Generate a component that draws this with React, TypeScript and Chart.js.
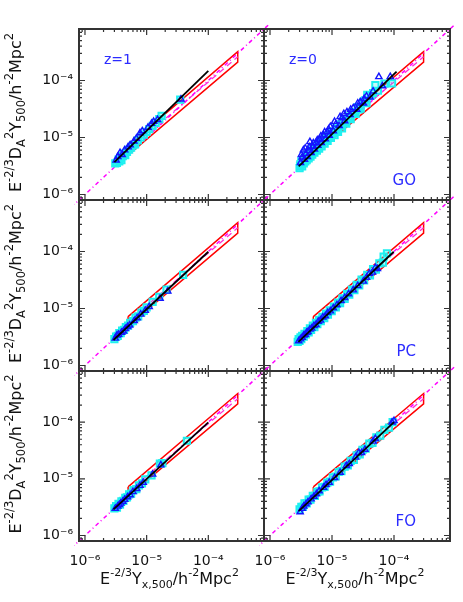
import React, { useEffect, useRef } from 'react';
import { Chart, registerables } from 'chart.js';

Chart.register(...registerables);
Chart.defaults.font.family = 'DejaVu Sans';

// ---------- axis / tick data ----------
const AXIS_MIN = 8e-7;
const AXIS_MAX = 8e-4;
const DECADES = [1e-6, 1e-5, 1e-4];
const DECADE_LABELS = ['10⁻⁶', '10⁻⁵', '10⁻⁴'];
const TICK_VALUES = [
  8e-7, 9e-7,
  1e-6, 2e-6, 3e-6, 4e-6, 5e-6, 6e-6, 7e-6, 8e-6, 9e-6,
  1e-5, 2e-5, 3e-5, 4e-5, 5e-5, 6e-5, 7e-5, 8e-5, 9e-5,
  1e-4, 2e-4, 3e-4, 4e-4, 5e-4, 6e-4, 7e-4, 8e-4,
];

// ---------- reference relations (same in every panel) ----------
const BAND_X = [5e-6, 3e-4, 3e-4, 5e-6, 5e-6];
const BAND_Y = [7.2e-6, 3.2e-4, 2.1e-4, 4.9e-6, 7.2e-6];
const BAND_MID_X = [5e-6, 3e-4];
const BAND_MID_Y = [5.9e-6, 2.6e-4];
const IDENTITY_X = [6e-7, 1e-3];
const IDENTITY_Y = [6e-7, 1e-3];

// ---------- GO, z=1 ----------
const GO_Z1_SQ_X = [3.1e-6, 3.3e-6, 3.5e-6, 3.6e-6, 3.8e-6, 3.9e-6, 4.1e-6, 4.3e-6, 4.5e-6, 4.8e-6, 5.2e-6, 5.6e-6, 6.0e-6, 6.5e-6, 7.2e-6, 8.0e-6, 9.0e-6, 1.0e-5, 1.1e-5, 1.25e-5, 1.4e-5, 1.6e-5, 1.75e-5, 3.5e-5];
const GO_Z1_SQ_Y = [3.5e-6, 3.6e-6, 4.1e-6, 3.8e-6, 4.4e-6, 4.0e-6, 4.7e-6, 5.2e-6, 4.9e-6, 5.6e-6, 6.1e-6, 6.6e-6, 7.3e-6, 7.6e-6, 8.9e-6, 1.0e-5, 1.12e-5, 1.25e-5, 1.4e-5, 1.6e-5, 1.8e-5, 2.1e-5, 2.4e-5, 4.6e-5];
const GO_Z1_TRI_X = [3.2e-6, 3.4e-6, 3.7e-6, 4.0e-6, 4.4e-6, 5.0e-6, 5.4e-6, 6.2e-6, 6.8e-6, 7.8e-6, 8.5e-6, 1.05e-5, 1.2e-5, 1.3e-5, 1.5e-5, 3.6e-5];
const GO_Z1_TRI_Y = [4.0e-6, 4.6e-6, 5.4e-6, 5.0e-6, 6.0e-6, 6.8e-6, 7.4e-6, 8.6e-6, 9.6e-6, 1.2e-5, 1.3e-5, 1.5e-5, 1.75e-5, 1.9e-5, 2.05e-5, 4.7e-5];
const GO_Z1_FIT_X = [3.0e-6, 1.0e-4];
const GO_Z1_FIT_Y = [3.7e-6, 1.47e-4];

// ---------- GO, z=0 ----------
const GO_Z0_SQ_X = [3.0e-6, 3.1e-6, 3.2e-6, 3.3e-6, 3.4e-6, 3.5e-6, 3.6e-6, 3.7e-6, 3.8e-6, 3.9e-6, 4.0e-6, 4.2e-6, 4.3e-6, 4.5e-6, 4.6e-6, 4.8e-6, 5.0e-6, 5.2e-6, 5.4e-6, 5.7e-6, 5.9e-6, 6.2e-6, 6.5e-6, 6.8e-6, 7.2e-6, 7.6e-6, 8.0e-6, 8.5e-6, 9.0e-6, 9.6e-6, 1.02e-5, 1.1e-5, 1.17e-5, 1.25e-5, 1.35e-5, 1.45e-5, 1.55e-5, 1.7e-5, 1.85e-5, 2.0e-5, 2.2e-5, 2.4e-5, 2.6e-5, 2.9e-5, 3.2e-5, 3.6e-5, 3.7e-5, 4.2e-5, 5.0e-5, 5.5e-5, 7.0e-5, 9.3e-5,
  3.05e-6, 3.25e-6, 3.45e-6, 3.65e-6, 3.85e-6, 4.1e-6, 4.4e-6, 4.7e-6, 5.1e-6, 5.5e-6, 6.0e-6, 6.6e-6, 7.4e-6, 8.2e-6, 9.3e-6, 1.06e-5, 1.2e-5, 1.4e-5, 1.6e-5, 1.9e-5, 2.3e-5, 2.7e-5, 3.4e-5, 4.6e-5];
const GO_Z0_SQ_Y = [2.9e-6, 3.4e-6, 3.8e-6, 3.1e-6, 4.0e-6, 3.5e-6, 4.3e-6, 3.8e-6, 4.6e-6, 4.0e-6, 5.0e-6, 4.3e-6, 5.3e-6, 4.6e-6, 5.7e-6, 5.0e-6, 6.3e-6, 5.4e-6, 6.8e-6, 5.9e-6, 7.4e-6, 6.4e-6, 8.2e-6, 7.0e-6, 9.0e-6, 7.8e-6, 1.0e-5, 8.7e-6, 1.12e-5, 9.8e-6, 1.28e-5, 1.1e-5, 1.45e-5, 1.25e-5, 1.7e-5, 1.45e-5, 1.95e-5, 1.75e-5, 2.35e-5, 2.1e-5, 2.8e-5, 2.6e-5, 3.4e-5, 3.2e-5, 4.2e-5, 4.0e-5, 5.6e-5, 5.4e-5, 8.3e-5, 6.6e-5, 8.8e-5, 8.9e-5,
  3.2e-6, 3.5e-6, 3.7e-6, 4.0e-6, 4.2e-6, 4.6e-6, 5.0e-6, 5.3e-6, 5.8e-6, 6.2e-6, 6.9e-6, 7.6e-6, 8.5e-6, 9.4e-6, 1.06e-5, 1.2e-5, 1.36e-5, 1.6e-5, 1.85e-5, 2.2e-5, 2.65e-5, 3.1e-5, 4.5e-5, 6.0e-5];
const GO_Z0_TRI_X = [3.1e-6, 3.3e-6, 3.46e-6, 3.6e-6, 3.8e-6, 4.0e-6, 4.2e-6, 4.4e-6, 4.6e-6, 4.9e-6, 5.2e-6, 5.5e-6, 5.9e-6, 6.3e-6, 6.7e-6, 7.3e-6, 7.8e-6, 8.4e-6, 9.0e-6, 9.4e-6, 1.05e-5, 1.15e-5, 1.3e-5, 1.45e-5, 1.6e-5, 1.74e-5, 1.95e-5, 2.2e-5, 2.5e-5, 2.86e-5, 3.2e-5, 3.6e-5, 4.1e-5, 4.6e-5, 5.7e-5, 8.7e-5, 6.5e-5,
  3.2e-6, 3.7e-6, 4.3e-6, 5.0e-6, 5.8e-6, 6.6e-6, 7.6e-6, 8.8e-6, 1.1e-5, 1.35e-5, 1.55e-5, 2.0e-5, 2.6e-5, 3.3e-5];
const GO_Z0_TRI_Y = [3.6e-6, 4.5e-6, 6.0e-6, 4.1e-6, 5.2e-6, 4.6e-6, 5.9e-6, 8.4e-6, 5.4e-6, 6.9e-6, 6.2e-6, 8.0e-6, 7.2e-6, 9.3e-6, 8.1e-6, 1.1e-5, 9.4e-6, 1.25e-5, 1.08e-5, 1.55e-5, 1.3e-5, 1.7e-5, 1.6e-5, 2.2e-5, 1.95e-5, 2.8e-5, 2.5e-5, 3.3e-5, 3.1e-5, 4.2e-5, 4.0e-5, 5.3e-5, 5.1e-5, 6.5e-5, 1.16e-4, 1.16e-4, 8.0e-5,
  5.0e-6, 6.5e-6, 6.8e-6, 8.0e-6, 9.0e-6, 1.05e-5, 1.25e-5, 1.4e-5, 1.9e-5, 2.3e-5, 2.6e-5, 3.1e-5, 4.0e-5, 4.8e-5];
const GO_Z0_FIT_X = [2.9e-6, 1.1e-4];
const GO_Z0_FIT_Y = [3.1e-6, 1.43e-4];

// ---------- PC, z=1 ----------
const PC_Z1_SQ_X = [3.0e-6, 3.2e-6, 3.4e-6, 3.6e-6, 3.8e-6, 4.0e-6, 4.3e-6, 4.6e-6, 5.0e-6, 5.4e-6, 6.0e-6, 6.6e-6, 7.3e-6, 8.2e-6, 9.0e-6, 1.0e-5, 1.25e-5, 1.6e-5, 2.1e-5, 3.9e-5];
const PC_Z1_SQ_Y = [2.9e-6, 3.2e-6, 3.3e-6, 3.7e-6, 3.7e-6, 4.1e-6, 4.2e-6, 4.7e-6, 5.0e-6, 5.6e-6, 6.0e-6, 6.9e-6, 7.3e-6, 8.5e-6, 9.1e-6, 1.05e-5, 1.3e-5, 1.6e-5, 2.15e-5, 3.9e-5];
const PC_Z1_TRI_X = [3.1e-6, 3.3e-6, 3.5e-6, 3.9e-6, 4.2e-6, 4.5e-6, 4.9e-6, 5.3e-6, 6.3e-6, 7.0e-6, 8.0e-6, 9.5e-6, 1.1e-5, 1.65e-5, 2.2e-5];
const PC_Z1_TRI_Y = [3.0e-6, 3.4e-6, 3.5e-6, 3.8e-6, 4.0e-6, 4.4e-6, 4.8e-6, 5.1e-6, 6.1e-6, 6.8e-6, 7.9e-6, 9.2e-6, 1.07e-5, 1.5e-5, 2.0e-5];
const PC_Z1_FIT_X = [2.9e-6, 1.0e-4];
const PC_Z1_FIT_Y = [2.8e-6, 9.9e-5];

// ---------- PC, z=0 ----------
const PC_Z0_SQ_X = [2.8e-6, 2.9e-6, 3.0e-6, 3.1e-6, 3.2e-6, 3.3e-6, 3.5e-6, 3.6e-6, 3.8e-6, 4.0e-6, 4.2e-6, 4.4e-6, 4.6e-6, 4.9e-6, 5.2e-6, 5.5e-6, 5.8e-6, 6.2e-6, 6.6e-6, 7.0e-6, 7.5e-6, 8.0e-6, 8.6e-6, 9.2e-6, 9.9e-6, 1.07e-5, 1.15e-5, 1.25e-5, 1.35e-5, 1.47e-5, 1.6e-5, 1.75e-5, 1.9e-5, 2.1e-5, 2.3e-5, 2.5e-5, 2.75e-5, 3.0e-5, 3.3e-5, 3.7e-5, 4.1e-5, 4.6e-5, 5.1e-5, 5.8e-5, 6.6e-5, 7.7e-5, 6.8e-5];
const PC_Z0_SQ_Y = [2.6e-6, 2.9e-6, 2.7e-6, 3.1e-6, 2.9e-6, 3.3e-6, 3.2e-6, 3.6e-6, 3.5e-6, 4.0e-6, 3.8e-6, 4.5e-6, 4.2e-6, 5.0e-6, 4.7e-6, 5.6e-6, 5.3e-6, 6.3e-6, 6.0e-6, 7.1e-6, 6.8e-6, 8.1e-6, 7.8e-6, 9.3e-6, 9.0e-6, 1.08e-5, 1.05e-5, 1.27e-5, 1.24e-5, 1.5e-5, 1.47e-5, 1.8e-5, 1.75e-5, 2.15e-5, 2.1e-5, 2.6e-5, 2.55e-5, 3.2e-5, 3.1e-5, 3.9e-5, 3.8e-5, 4.9e-5, 4.8e-5, 6.2e-5, 6.4e-5, 9.3e-5, 8.1e-5];
const PC_Z0_TRI_X = [2.9e-6, 3.1e-6, 3.3e-6, 3.5e-6, 3.7e-6, 3.9e-6, 4.1e-6, 4.4e-6, 4.7e-6, 5.1e-6, 5.5e-6, 6.0e-6, 6.5e-6, 7.1e-6, 7.8e-6, 8.5e-6, 9.4e-6, 1.05e-5, 1.2e-5, 1.4e-5, 1.6e-5, 1.85e-5, 2.2e-5, 2.6e-5, 3.2e-5, 3.6e-5, 4.0e-5, 4.5e-5, 5.0e-5, 5.4e-5];
const PC_Z0_TRI_Y = [2.7e-6, 2.9e-6, 3.1e-6, 3.4e-6, 3.5e-6, 3.8e-6, 3.9e-6, 4.3e-6, 4.5e-6, 5.0e-6, 5.2e-6, 5.9e-6, 6.2e-6, 7.0e-6, 7.4e-6, 8.4e-6, 9.0e-6, 1.02e-5, 1.15e-5, 1.36e-5, 1.55e-5, 1.8e-5, 2.1e-5, 2.5e-5, 3.0e-5, 3.5e-5, 4.1e-5, 4.3e-5, 5.2e-5, 5.0e-5];
const PC_Z0_FIT_X = [2.87e-6, 9.9e-5];
const PC_Z0_FIT_Y = [2.6e-6, 9.9e-5];

// ---------- FO, z=1 ----------
const FO_Z1_SQ_X = [3.0e-6, 3.2e-6, 3.3e-6, 3.5e-6, 3.7e-6, 3.9e-6, 4.2e-6, 4.5e-6, 4.8e-6, 5.2e-6, 5.6e-6, 6.1e-6, 6.8e-6, 7.5e-6, 8.4e-6, 9.5e-6, 1.2e-5, 1.64e-5, 1.8e-5, 4.5e-5];
const FO_Z1_SQ_Y = [3.0e-6, 3.3e-6, 3.1e-6, 3.6e-6, 3.5e-6, 4.0e-6, 4.1e-6, 4.6e-6, 4.7e-6, 5.3e-6, 5.5e-6, 6.3e-6, 6.6e-6, 7.7e-6, 8.3e-6, 9.8e-6, 1.15e-5, 1.85e-5, 1.9e-5, 4.7e-5];
const FO_Z1_TRI_X = [3.1e-6, 3.4e-6, 3.6e-6, 3.8e-6, 4.1e-6, 4.4e-6, 4.9e-6, 5.4e-6, 6.0e-6, 6.9e-6, 7.8e-6, 8.8e-6, 1.25e-5, 1.7e-5];
const FO_Z1_TRI_Y = [3.0e-6, 3.3e-6, 3.5e-6, 3.7e-6, 4.0e-6, 4.3e-6, 4.8e-6, 5.2e-6, 5.9e-6, 6.7e-6, 7.6e-6, 8.6e-6, 1.2e-5, 1.75e-5];
const FO_Z1_FIT_X = [2.9e-6, 1.0e-4];
const FO_Z1_FIT_Y = [2.9e-6, 9.9e-5];

// ---------- FO, z=0 ----------
const FO_Z0_SQ_X = [3.0e-6, 3.2e-6, 3.4e-6, 3.6e-6, 3.9e-6, 4.2e-6, 4.5e-6, 4.9e-6, 5.3e-6, 5.8e-6, 6.3e-6, 6.9e-6, 7.6e-6, 8.4e-6, 9.3e-6, 1.03e-5, 1.15e-5, 1.28e-5, 1.42e-5, 1.6e-5, 1.8e-5, 2.0e-5, 2.25e-5, 2.5e-5, 2.8e-5, 3.1e-5, 3.5e-5, 4.0e-5, 4.5e-5, 5.2e-5, 6.0e-5, 7.0e-5, 8.3e-5, 9.5e-5];
const FO_Z0_SQ_Y = [2.9e-6, 3.2e-6, 3.2e-6, 3.7e-6, 3.7e-6, 4.3e-6, 4.3e-6, 5.0e-6, 5.0e-6, 5.9e-6, 6.0e-6, 7.1e-6, 7.2e-6, 8.6e-6, 8.9e-6, 1.06e-5, 1.1e-5, 1.32e-5, 1.37e-5, 1.65e-5, 1.72e-5, 2.08e-5, 2.15e-5, 2.6e-5, 2.7e-5, 3.25e-5, 3.4e-5, 4.2e-5, 4.3e-5, 5.4e-5, 5.8e-5, 7.3e-5, 8.0e-5, 1.0e-4];
const FO_Z0_TRI_X = [3.06e-6, 3.3e-6, 3.5e-6, 3.8e-6, 4.1e-6, 4.6e-6, 5.1e-6, 5.6e-6, 6.2e-6, 7.3e-6, 8.0e-6, 9.0e-6, 1.1e-5, 1.35e-5, 1.7e-5, 1.9e-5, 2.4e-5, 2.7e-5, 3.0e-5, 3.4e-5, 4.6e-5, 5.0e-5, 9.3e-5, 1.0e-4];
const FO_Z0_TRI_Y = [2.6e-6, 3.0e-6, 3.3e-6, 3.6e-6, 3.9e-6, 4.4e-6, 4.9e-6, 5.4e-6, 6.1e-6, 7.0e-6, 7.9e-6, 8.6e-6, 1.05e-5, 1.3e-5, 1.7e-5, 1.85e-5, 2.4e-5, 2.9e-5, 2.9e-5, 3.3e-5, 4.6e-5, 5.1e-5, 1.0e-4, 1.06e-4];
const FO_Z0_FIT_X = [2.9e-6, 1.0e-4];
const FO_Z0_FIT_Y = [2.7e-6, 1.0e-4];

// ---------- text ----------
const REDSHIFT_LABELS = ['z=1', 'z=0'];
const MODEL_LABELS = ['GO', 'PC', 'FO'];

type Seg = { t: string; s?: 'sup' | 'sub' };
const Y_TITLE: Seg[] = [
  { t: 'E' }, { t: '-2/3', s: 'sup' }, { t: 'D' }, { t: 'A', s: 'sub' }, { t: '2', s: 'sup' },
  { t: 'Y' }, { t: '500', s: 'sub' }, { t: '/h' }, { t: '-2', s: 'sup' }, { t: 'Mpc' }, { t: '2', s: 'sup' },
];
const X_TITLE: Seg[] = [
  { t: 'E' }, { t: '-2/3', s: 'sup' }, { t: 'Y' }, { t: 'x,500', s: 'sub' }, { t: '/h' },
  { t: '-2', s: 'sup' }, { t: 'Mpc' }, { t: '2', s: 'sup' },
];

// ---------- layout ----------
const W = 463;
const H = 602;
const COL_LEFT = [79, 264];
const COL_RIGHT = [264, 450];
const ROW_TOP = [29, 200, 371];
const ROW_BOTTOM = [200, 371, 541];
const Y_AXIS_W = 79;
const X_AXIS_H = 40;
const FONT = 'DejaVu Sans';
const BLUE_TEXT = '#2b2bff';

type PanelSpec = {
  col: number;
  row: number;
  sqX: number[]; sqY: number[];
  triX: number[]; triY: number[];
  fitX: number[]; fitY: number[];
};

const PANELS: PanelSpec[] = [
  { col: 0, row: 0, sqX: GO_Z1_SQ_X, sqY: GO_Z1_SQ_Y, triX: GO_Z1_TRI_X, triY: GO_Z1_TRI_Y, fitX: GO_Z1_FIT_X, fitY: GO_Z1_FIT_Y },
  { col: 1, row: 0, sqX: GO_Z0_SQ_X, sqY: GO_Z0_SQ_Y, triX: GO_Z0_TRI_X, triY: GO_Z0_TRI_Y, fitX: GO_Z0_FIT_X, fitY: GO_Z0_FIT_Y },
  { col: 0, row: 1, sqX: PC_Z1_SQ_X, sqY: PC_Z1_SQ_Y, triX: PC_Z1_TRI_X, triY: PC_Z1_TRI_Y, fitX: PC_Z1_FIT_X, fitY: PC_Z1_FIT_Y },
  { col: 1, row: 1, sqX: PC_Z0_SQ_X, sqY: PC_Z0_SQ_Y, triX: PC_Z0_TRI_X, triY: PC_Z0_TRI_Y, fitX: PC_Z0_FIT_X, fitY: PC_Z0_FIT_Y },
  { col: 0, row: 2, sqX: FO_Z1_SQ_X, sqY: FO_Z1_SQ_Y, triX: FO_Z1_TRI_X, triY: FO_Z1_TRI_Y, fitX: FO_Z1_FIT_X, fitY: FO_Z1_FIT_Y },
  { col: 1, row: 2, sqX: FO_Z0_SQ_X, sqY: FO_Z0_SQ_Y, triX: FO_Z0_TRI_X, triY: FO_Z0_TRI_Y, fitX: FO_Z0_FIT_X, fitY: FO_Z0_FIT_Y },
];

const pts = (xs: number[], ys: number[]) => xs.map((x, i) => ({ x, y: ys[i] }));
const isDecade = (v: number) => Math.abs(Math.log10(v) - Math.round(Math.log10(v))) < 1e-6;
const decadeLabel = (v: number) => {
  const i = DECADES.findIndex((d) => Math.abs(Math.log10(v) - Math.log10(d)) < 1e-6);
  return i >= 0 ? DECADE_LABELS[i] : '';
};

function drawRich(ctx: CanvasRenderingContext2D, segs: Seg[], cx: number, cy: number, rot: number, main: number, script: number) {
  const widths = segs.map((s) => {
    ctx.font = `${s.s ? script : main}px "${FONT}"`;
    return ctx.measureText(s.t).width;
  });
  const total = widths.reduce((a, b) => a + b, 0);
  ctx.save();
  ctx.translate(cx, cy);
  ctx.rotate(rot);
  ctx.fillStyle = '#111';
  ctx.textBaseline = 'alphabetic';
  ctx.textAlign = 'left';
  let x = -total / 2;
  segs.forEach((s, i) => {
    ctx.font = `${s.s ? script : main}px "${FONT}"`;
    const dy = s.s === 'sup' ? -main * 0.47 : s.s === 'sub' ? main * 0.25 : 0;
    ctx.fillText(s.t, x, dy);
    x += widths[i];
  });
  ctx.restore();
}

function makeDecorPlugin(spec: PanelSpec) {
  return {
    id: 'idlDecor',
    afterDraw(chart: any) {
      const { ctx, chartArea } = chart;
      const { left, top, right, bottom } = chartArea;
      const xs = chart.scales.x;
      const ys = chart.scales.y;
      ctx.save();
      ctx.strokeStyle = '#333';
      ctx.lineWidth = 1.2;
      ctx.beginPath();
      TICK_VALUES.forEach((v) => {
        const len = isDecade(v) ? 6 : 3;
        const px = xs.getPixelForValue(v);
        ctx.moveTo(px, bottom); ctx.lineTo(px, bottom - len);
        ctx.moveTo(px, top); ctx.lineTo(px, top + len);
        const py = ys.getPixelForValue(v);
        ctx.moveTo(left, py); ctx.lineTo(left + len, py);
        ctx.moveTo(right, py); ctx.lineTo(right - len, py);
      });
      ctx.stroke();
      ctx.lineWidth = 2;
      ctx.strokeRect(left, top, right - left, bottom - top);

      ctx.fillStyle = BLUE_TEXT;
      ctx.font = `14px "${FONT}"`;
      ctx.textBaseline = 'alphabetic';
      if (spec.row === 0) {
        ctx.textAlign = 'left';
        ctx.fillText(REDSHIFT_LABELS[spec.col], left + 25, top + 35);
      }
      if (spec.col === 1) {
        ctx.textAlign = 'right';
        ctx.font = `15px "${FONT}"`;
        ctx.fillText(MODEL_LABELS[spec.row], right - 34, bottom - 15);
      }
      if (spec.col === 0) {
        drawRich(ctx, Y_TITLE, 21, (top + bottom) / 2 - 2, -Math.PI / 2, 16, 11.5);
      }
      if (spec.row === 2) {
        drawRich(ctx, X_TITLE, (left + right) / 2 - 2, 584, 0, 16, 11);
      }
      ctx.restore();
    },
  };
}

function buildConfig(spec: PanelSpec): any {
  const showY = spec.col === 0;
  const showX = spec.row === 2;
  const tickFont = { family: FONT, size: 14 };
  const setTicks = (s: any) => { s.ticks = TICK_VALUES.map((v) => ({ value: v })); };
  return {
    type: 'scatter',
    data: {
      datasets: [
        { data: pts(spec.fitX, spec.fitY), showLine: true, borderColor: '#000', borderWidth: 1.8, pointRadius: 0, order: 0 },
        { data: pts(spec.triX, spec.triY), pointStyle: 'triangle', pointRadius: 3.6, borderColor: '#1414ff', backgroundColor: 'rgba(0,0,0,0)', borderWidth: 1.4, order: 1 },
        { data: pts(spec.sqX, spec.sqY), pointStyle: 'rect', pointRadius: 4.4, borderColor: '#1ef0f0', backgroundColor: 'rgba(30,240,240,0.25)', borderWidth: 2, order: 2 },
        { data: pts(IDENTITY_X, IDENTITY_Y), showLine: true, borderColor: '#ff00ff', borderWidth: 1.5, borderDash: [4, 3, 1, 3], pointRadius: 0, clip: 5, order: 3 },
        { data: pts(BAND_MID_X, BAND_MID_Y), showLine: true, borderColor: '#ff30d0', borderWidth: 1.3, borderDash: [6, 4], pointRadius: 0, order: 4 },
        { data: pts(BAND_X, BAND_Y), showLine: true, borderColor: '#ff0000', borderWidth: 1.5, pointRadius: 0, order: 5 },
      ],
    },
    options: {
      responsive: false,
      animation: false,
      events: [],
      layout: {
        padding: {
          left: showY ? COL_LEFT[0] - Y_AXIS_W : COL_LEFT[1],
          top: ROW_TOP[spec.row],
          right: W - COL_RIGHT[spec.col],
          bottom: H - ROW_BOTTOM[spec.row] - (showX ? X_AXIS_H : 0),
        },
      },
      plugins: { legend: { display: false }, tooltip: { enabled: false } },
      scales: {
        x: {
          type: 'logarithmic',
          min: AXIS_MIN,
          max: AXIS_MAX,
          bounds: 'data',
          display: showX,
          afterBuildTicks: setTicks,
          afterFit: showX ? (s: any) => { s.height = X_AXIS_H; s.paddingLeft = 0; s.paddingRight = 0; } : undefined,
          grid: { display: false, drawTicks: false },
          border: { display: false },
          ticks: { autoSkip: false, maxRotation: 0, minRotation: 0, padding: 12, color: '#111', font: tickFont, callback: (v: number) => decadeLabel(v) },
        },
        y: {
          type: 'logarithmic',
          min: AXIS_MIN,
          max: AXIS_MAX,
          bounds: 'data',
          position: 'left',
          display: showY,
          afterBuildTicks: setTicks,
          afterFit: showY ? (s: any) => { s.width = Y_AXIS_W; s.paddingTop = 0; s.paddingBottom = 0; } : undefined,
          grid: { display: false, drawTicks: false },
          border: { display: false },
          ticks: { autoSkip: false, padding: 6, color: '#111', font: tickFont, callback: (v: number) => decadeLabel(v) },
        },
      },
    },
    plugins: [makeDecorPlugin(spec)],
  };
}

function Panel({ spec }: { spec: PanelSpec }) {
  const ref = useRef<HTMLCanvasElement>(null);
  useEffect(() => {
    const chart = new Chart(ref.current as HTMLCanvasElement, buildConfig(spec));
    return () => chart.destroy();
  }, [spec]);
  return (
    <canvas
      ref={ref}
      width={W}
      height={H}
      style={{ position: 'absolute', left: 0, top: 0, width: W, height: H }}
    />
  );
}

export default function App() {
  return (
    <div style={{ position: 'absolute', left: 0, top: 0, width: W, height: H, background: '#fff', overflow: 'hidden' }}>
      {PANELS.map((p, i) => (
        <Panel key={i} spec={p} />
      ))}
    </div>
  );
}
